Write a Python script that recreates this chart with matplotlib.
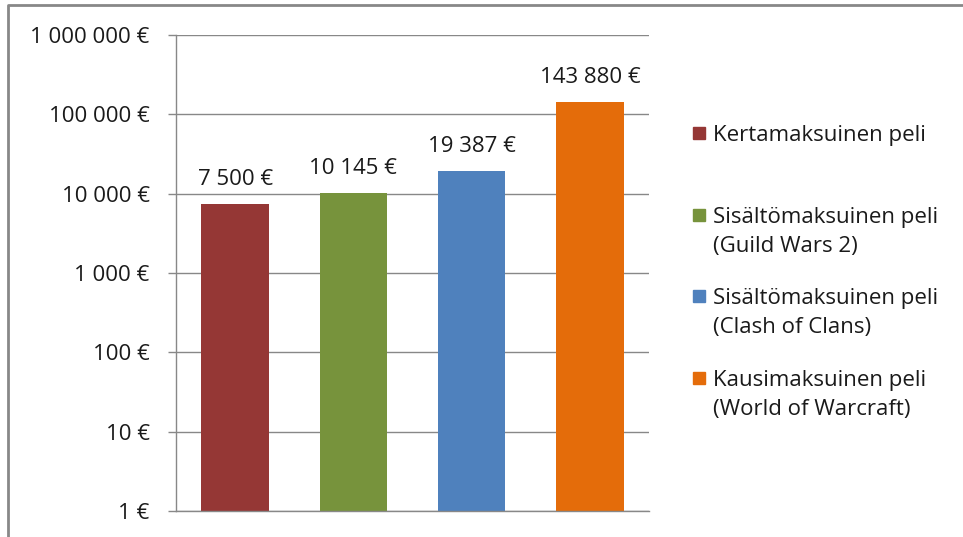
import matplotlib
matplotlib.use('Agg')
import matplotlib.pyplot as plt
from matplotlib.patches import Rectangle
from matplotlib.lines import Line2D

# data
games = ['Kertamaksuinen peli',
         'Sisältömaksuinen peli\n(Guild Wars 2)',
         'Sisältömaksuinen peli\n(Clash of Clans)',
         'Kausimaksuinen peli\n(World of Warcraft)']
costs = [7500, 10145, 19387, 143880]
colors = ['#953735', '#77933C', '#4F81BD', '#E46C0A']
yticks = [1, 10, 100, 1000, 10000, 100000, 1000000]

def euro(v):
    return '{:,}'.format(int(v)).replace(',', ' ') + ' €'

plt.rcParams['font.family'] = ['Open Sans', 'DejaVu Sans']
txt = '#1a1a1a'
gray = '#888888'
fs = 16

W, H = 963, 537
fig = plt.figure(figsize=(W / 100, H / 100), dpi=100)
ax = fig.add_axes([176 / W, 1 - 511 / H, (649 - 176) / W, (511 - 35) / H])

x = range(len(costs))
ax.bar(x, costs, width=0.57, color=colors, zorder=3)
for i, v in enumerate(costs):
    ax.annotate(euro(v), (i, v), xytext=(0, 10), textcoords='offset points',
                ha='center', va='bottom', fontsize=fs, color=txt)

ax.set_yscale('log')
ax.set_ylim(1, 1000000)
ax.set_xlim(-0.5, len(costs) - 0.5)
ax.set_yticks(yticks)
ax.set_yticklabels([euro(t) for t in yticks], fontsize=fs, color=txt)
ax.yaxis.set_minor_locator(matplotlib.ticker.NullLocator())
ax.tick_params(axis='y', length=6, width=1, color=gray, pad=13)
ax.set_xticks([])
ax.grid(axis='y', color=gray, lw=1, zorder=0)
for s in ['top', 'right']:
    ax.spines[s].set_visible(False)
for s in ['left', 'bottom']:
    ax.spines[s].set_color(gray)
    ax.spines[s].set_linewidth(1)
ax.spines['bottom'].set_zorder(4)

# legend drawn by hand, marker aligned with first line
leg_y = [133, 215, 296, 378]
for lab, c, yy in zip(games, colors, leg_y):
    fig.add_artist(Rectangle((693 / W, 1 - (yy + 6) / H), 12 / W, 12 / H,
                             transform=fig.transFigure, color=c))
    fig.text(713 / W, 1 - (yy - 8) / H, lab, ha='left', va='top',
             fontsize=fs, color=txt, linespacing=1.5)

# outer frame (top and left visible)
fig.add_artist(Line2D([8 / W, 8 / W, 1], [0, 1 - 5 / H, 1 - 5 / H],
                      transform=fig.transFigure, color=gray, lw=2))

fig.savefig('out.png', dpi=100)
